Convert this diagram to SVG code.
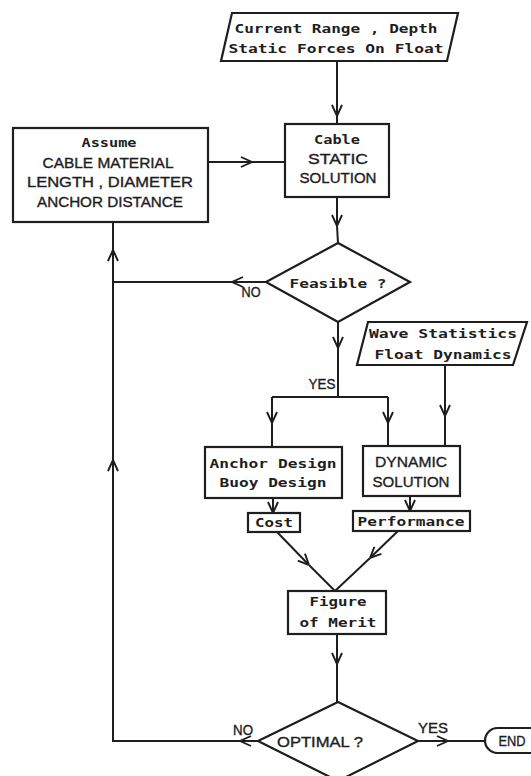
<svg xmlns="http://www.w3.org/2000/svg" width="531" height="776" viewBox="0 0 531 776">
<style>
.bg{fill:#ffffff}
.s{fill:#ffffff;stroke:#1e1e1e;stroke-width:2.2;stroke-linejoin:miter}
.c{fill:none;stroke:#1e1e1e;stroke-width:2}
.a{fill:none;stroke:#1e1e1e;stroke-width:2;marker-end:url(#ah)}
.m{font-family:"DejaVu Sans Mono","Liberation Mono",monospace;font-weight:bold;font-size:13px;fill:#1e1e1e;text-anchor:middle}
.u{font-family:"Liberation Sans","DejaVu Sans",sans-serif;font-size:14px;fill:#1e1e1e;stroke:#1e1e1e;stroke-width:0.35;text-anchor:middle}
</style>
<defs>
<marker id="ah" viewBox="0 0 12 12" refX="12" refY="6" markerWidth="12" markerHeight="12" markerUnits="userSpaceOnUse" orient="auto">
<path d="M1,1 L12,6 L1,11" fill="none" stroke="#1e1e1e" stroke-width="1.9"/>
</marker>
</defs>
<rect class="bg" x="0" y="0" width="531" height="776"/>

<g id="connectors">
<path class="a" d="M337,61 L337,116"/><path class="c" d="M337,116 L337,124"/>
<path class="a" d="M208,162 L252,162"/><path class="c" d="M252,162 L285,162"/>
<path class="a" d="M337,197 L337,226"/><path class="c" d="M337,226 L338,243"/>
<path class="a" d="M266,282 L232,282"/><path class="c" d="M232,282 L113,282"/>
<path class="a" d="M338,322 L338,348"/><path class="c" d="M338,348 L338,397 M272,397 L388,397"/>
<path class="a" d="M272,397 L272,423"/><path class="c" d="M272,423 L272,447"/>
<path class="a" d="M388,397 L388,423"/><path class="c" d="M388,423 L388,446"/>
<path class="a" d="M445,365 L445,416"/><path class="c" d="M445,416 L445,446"/>
<path class="a" d="M273,498 L273,513"/>
<path class="a" d="M410,496 L410,511"/>
<path class="a" d="M277,532 L309,565"/><path class="c" d="M309,565 L335,591"/>
<path class="a" d="M398,531 L370,558"/><path class="c" d="M370,558 L335,591"/>
<path class="a" d="M337,634 L337,664"/><path class="c" d="M337,664 L337,702"/>
<path class="a" d="M258,741 L240,741"/><path class="c" d="M240,741 L113,741 L113,470"/>
<path class="a" d="M113,520 L113,460"/><path class="c" d="M113,460 L113,270"/>
<path class="a" d="M113,300 L113,250"/><path class="c" d="M113,250 L113,222"/>
<path class="a" d="M418,741 L448,741"/><path class="c" d="M448,741 L485,741"/>
<text class="u" x="251" y="297" textLength="19" lengthAdjust="spacingAndGlyphs">NO</text>
<text class="u" x="322" y="389" textLength="27" lengthAdjust="spacingAndGlyphs">YES</text>
<text class="u" x="243" y="735" textLength="20" lengthAdjust="spacingAndGlyphs">NO</text>
<text class="u" x="433" y="733" textLength="30" lengthAdjust="spacingAndGlyphs">YES</text>
</g>

<g id="input-current">
<polygon class="s" points="232,13 458,13 447,61 221,61"/>
<text class="m" x="336" y="33" textLength="203" lengthAdjust="spacingAndGlyphs">Current Range , Depth</text>
<text class="m" x="336" y="53" textLength="215" lengthAdjust="spacingAndGlyphs">Static Forces On Float</text>
</g>

<g id="cable-static">
<rect class="s" x="285" y="124" width="104" height="73"/>
<text class="m" x="337" y="144" textLength="46" lengthAdjust="spacingAndGlyphs">Cable</text>
<text class="u" x="338" y="164" textLength="60" lengthAdjust="spacingAndGlyphs">STATIC</text>
<text class="u" x="338" y="183" textLength="77" lengthAdjust="spacingAndGlyphs">SOLUTION</text>
</g>

<g id="assume">
<rect class="s" x="13" y="128" width="195" height="94"/>
<text class="m" x="109" y="147" textLength="55" lengthAdjust="spacingAndGlyphs">Assume</text>
<text class="u" x="108" y="168" textLength="131" lengthAdjust="spacingAndGlyphs">CABLE MATERIAL</text>
<text class="u" x="110" y="187" textLength="166" lengthAdjust="spacingAndGlyphs">LENGTH , DIAMETER</text>
<text class="u" x="110" y="207" textLength="146" lengthAdjust="spacingAndGlyphs">ANCHOR DISTANCE</text>
</g>

<g id="feasible">
<polygon class="s" points="338,243 410,282 338,322 266,282"/>
<text class="m" x="338" y="288" textLength="97" lengthAdjust="spacingAndGlyphs">Feasible ?</text>
</g>

<g id="wave-input">
<polygon class="s" points="368,322 527,322 513,365 357,365"/>
<text class="m" x="443" y="338" textLength="148" lengthAdjust="spacingAndGlyphs">Wave Statistics</text>
<text class="m" x="443" y="359" textLength="137" lengthAdjust="spacingAndGlyphs">Float Dynamics</text>
</g>

<g id="anchor-design">
<rect class="s" x="205" y="447" width="137" height="51"/>
<text class="m" x="273" y="468" textLength="127" lengthAdjust="spacingAndGlyphs">Anchor Design</text>
<text class="m" x="273" y="487" textLength="107" lengthAdjust="spacingAndGlyphs">Buoy Design</text>
</g>

<g id="dynamic-solution">
<rect class="s" x="363" y="446" width="97" height="50"/>
<text class="u" x="411" y="467" textLength="72" lengthAdjust="spacingAndGlyphs">DYNAMIC</text>
<text class="u" x="411" y="487" textLength="77" lengthAdjust="spacingAndGlyphs">SOLUTION</text>
</g>

<g id="cost">
<rect class="s" x="248" y="513" width="52" height="19"/>
<text class="m" x="274" y="527" textLength="38" lengthAdjust="spacingAndGlyphs">Cost</text>
</g>

<g id="performance">
<rect class="s" x="353" y="511" width="117" height="20"/>
<text class="m" x="411" y="526" textLength="107" lengthAdjust="spacingAndGlyphs">Performance</text>
</g>

<g id="figure-of-merit">
<rect class="s" x="288" y="591" width="98" height="43"/>
<text class="m" x="338" y="606" textLength="57" lengthAdjust="spacingAndGlyphs">Figure</text>
<text class="m" x="338" y="627" textLength="77" lengthAdjust="spacingAndGlyphs">of Merit</text>
</g>

<g id="optimal">
<polygon class="s" points="338,702 418,741 338,781 258,741"/>
<text class="u" x="320" y="747" textLength="86" lengthAdjust="spacingAndGlyphs">OPTIMAL ?</text>
</g>

<g id="end">
<rect class="s" x="485" y="728" width="70" height="25" rx="12.5"/>
<text class="u" x="512" y="746" textLength="27" lengthAdjust="spacingAndGlyphs">END</text>
</g>
</svg>
